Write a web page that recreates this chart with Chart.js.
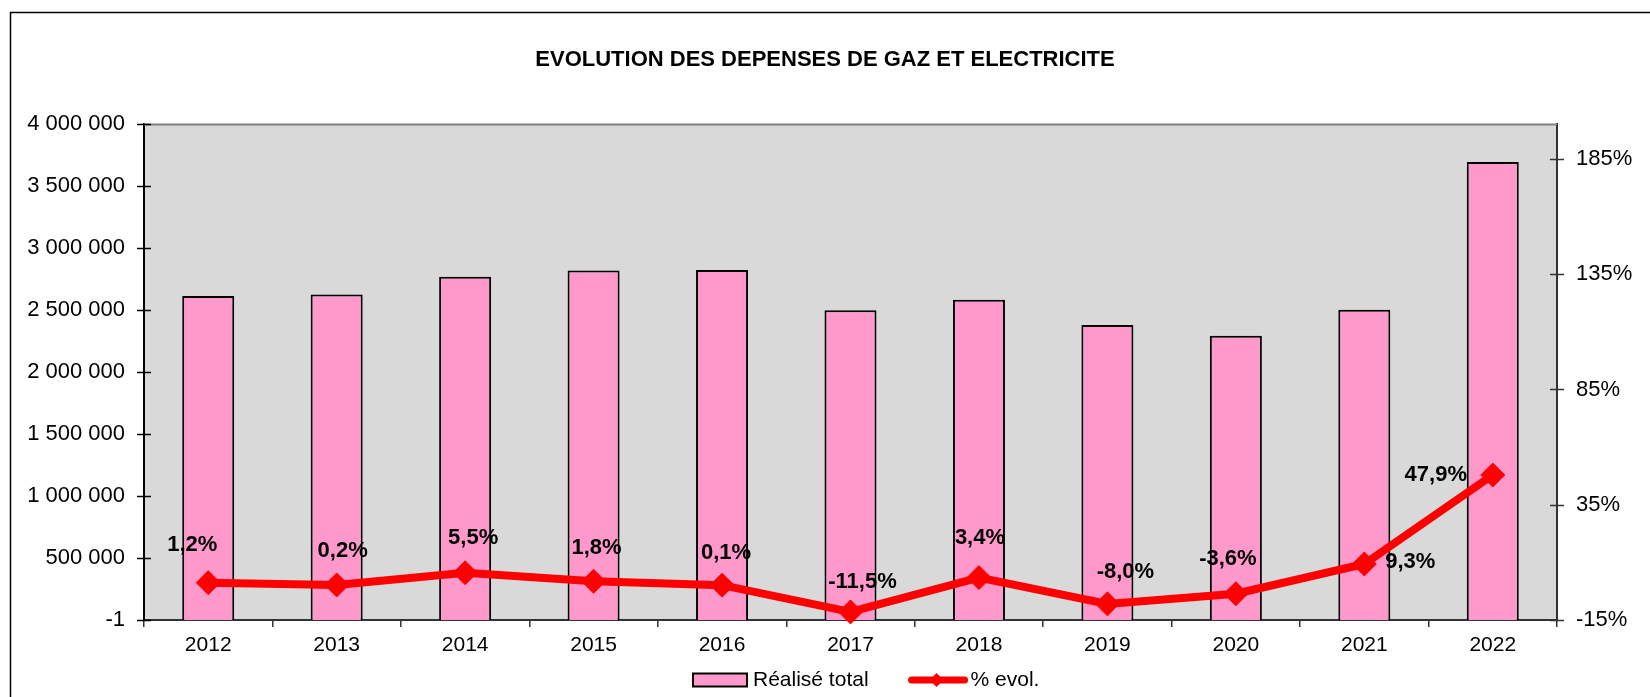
<!DOCTYPE html>
<html>
<head>
<meta charset="utf-8">
<script src="https://cdn.jsdelivr.net/npm/chart.js@4/dist/chart.umd.min.js"></script>
<style>
html,body{margin:0;padding:0;background:#fff;}
#wrap{width:1650px;height:697px;}
</style>
</head>
<body>
<div id="wrap"><canvas id="c" width="1650" height="697"></canvas></div>
<script>
const chartTitle = 'EVOLUTION DES DEPENSES DE GAZ ET ELECTRICITE';
const categories = ['2012','2013','2014','2015','2016','2017','2018','2019','2020','2021','2022'];
const realiseTotal = [2615000, 2628000, 2770000, 2820000, 2825000, 2500000, 2585000, 2380000, 2295000, 2505000, 3697000];
const evolPct = [1.2, 0.2, 5.5, 1.8, 0.1, -11.5, 3.4, -8.0, -3.6, 9.3, 47.9];
const seriesNames = ['Réalisé total', '% evol.'];
const leftTicks = [-1, 500000, 1000000, 1500000, 2000000, 2500000, 3000000, 3500000, 4000000];
const rightTicks = [-15, 35, 85, 135, 185];

const FONT = "'Liberation Sans', Arial, Helvetica, sans-serif";
// label offsets (px) relative to each point marker – layout only
const labelOffsets = [[-16,-38],[6,-34],[8,-35],[3,-33],[4,-32],[12,-30],[1,-40],[18,-32],[-8,-35],[46,-2],[-57,0]];

function fmtThousands(v){
  if (v === -1) return '-1';
  return String(v).replace(/\B(?=(\d{3})+(?!\d))/g, ' ');
}
function fmtPct(v){
  return v.toFixed(1).replace('.', ',') + '%';
}

const framePlugin = {
  id: 'framePlugin',
  beforeDraw(chart){
    const {ctx, chartArea:a} = chart;
    ctx.save();
    ctx.fillStyle = '#d9d9d9';
    ctx.fillRect(a.left, a.top, a.right - a.left, a.bottom - a.top);
    ctx.restore();
  },
  beforeDatasetsDraw(chart){
    const {ctx, chartArea:a} = chart;
    ctx.save();
    ctx.strokeStyle = '#808080';
    ctx.lineWidth = 2;
    ctx.beginPath();
    ctx.moveTo(a.left, a.top);
    ctx.lineTo(a.right, a.top);
    ctx.stroke();
    const yl = chart.scales.y, yr = chart.scales.y2;
    ctx.lineWidth = 1.5;
    ctx.strokeStyle = '#000';
    yl.ticks.forEach(t => {
      const py = Math.round(yl.getPixelForValue(t.value)) + 0.5;
      ctx.beginPath(); ctx.moveTo(a.left - 7, py); ctx.lineTo(a.left + 7, py); ctx.stroke();
    });
    ctx.strokeStyle = '#333';
    yr.ticks.forEach(t => {
      const py = Math.round(yr.getPixelForValue(t.value)) + 0.5;
      ctx.beginPath(); ctx.moveTo(a.right - 7, py); ctx.lineTo(a.right + 7, py); ctx.stroke();
    });
    ctx.restore();
  },
  afterDraw(chart){
    const {ctx} = chart;
    ctx.save();
    ctx.strokeStyle = '#000';
    ctx.lineWidth = 1.5;
    ctx.beginPath();
    ctx.moveTo(10.5, 697);
    ctx.lineTo(10.5, 12.5);
    ctx.lineTo(1650, 12.5);
    ctx.stroke();

    const meta = chart.getDatasetMeta(0);
    ctx.font = 'bold 22px ' + FONT;
    ctx.fillStyle = '#000';
    ctx.textAlign = 'center';
    ctx.textBaseline = 'middle';
    meta.data.forEach((pt, i) => {
      const off = labelOffsets[i] || [0, -34];
      ctx.fillText(fmtPct(evolPct[i]), pt.x + off[0], pt.y + off[1]);
    });

    const ly = 680;
    let x = 693;
    ctx.font = '21px ' + FONT;
    ctx.textAlign = 'left';
    ctx.textBaseline = 'middle';
    ctx.fillStyle = '#ff99cc';
    ctx.fillRect(x, ly - 6.5, 54, 13);
    ctx.strokeStyle = '#000';
    ctx.lineWidth = 2;
    ctx.strokeRect(x, ly - 6.5, 54, 13);
    x += 54 + 6;
    ctx.fillStyle = '#000';
    ctx.fillText(seriesNames[0], x, ly);
    x += ctx.measureText(seriesNames[0]).width + 40;
    ctx.strokeStyle = '#ff0000';
    ctx.lineWidth = 7;
    ctx.lineCap = 'round';
    ctx.beginPath(); ctx.moveTo(x + 3, ly); ctx.lineTo(x + 56, ly); ctx.stroke();
    ctx.fillStyle = '#ff0000';
    const cx = x + 28;
    ctx.beginPath();
    ctx.moveTo(cx, ly - 7); ctx.lineTo(cx + 7, ly); ctx.lineTo(cx, ly + 7); ctx.lineTo(cx - 7, ly); ctx.closePath();
    ctx.fill();
    x += 62;
    ctx.fillStyle = '#000';
    ctx.fillText(seriesNames[1], x, ly);
    ctx.restore();
  }
};

const ctx = document.getElementById('c').getContext('2d');
new Chart(ctx, {
  data: {
    labels: categories,
    datasets: [
      {
        type: 'line',
        label: seriesNames[1],
        data: evolPct,
        yAxisID: 'y2',
        borderColor: '#ff0000',
        backgroundColor: '#ff0000',
        borderWidth: 8,
        pointStyle: 'rectRot',
        pointRadius: 12,
        pointHoverRadius: 12,
        pointBorderWidth: 1,
        pointBackgroundColor: '#ff0000',
        pointBorderColor: '#ff0000',
        tension: 0,
        clip: false,
        order: 0
      },
      {
        type: 'bar',
        label: seriesNames[0],
        data: realiseTotal,
        yAxisID: 'y',
        backgroundColor: '#ff99cc',
        borderColor: '#000000',
        borderWidth: 2,
        categoryPercentage: 1.0,
        barPercentage: 0.405,
        order: 1
      }
    ]
  },
  options: {
    responsive: false,
    animation: false,
    devicePixelRatio: 1,
    events: [],
    layout: { padding: { left: 0, right: 0, top: 0, bottom: 27 } },
    plugins: {
      legend: { display: false },
      tooltip: { enabled: false },
      title: {
        display: true,
        text: chartTitle,
        color: '#000',
        font: { family: FONT, size: 22, weight: 'bold' },
        padding: { top: 47, bottom: 51 }
      }
    },
    scales: {
      x: {
        type: 'category',
        offset: true,
        grid: { display: true, offset: true, drawOnChartArea: false, drawTicks: true, tickLength: 7, color: '#333', lineWidth: 1.5 },
        border: { display: true, color: '#333', width: 2 },
        ticks: { color: '#000', font: { family: FONT, size: 21 }, padding: 6, maxRotation: 0, minRotation: 0, autoSkip: false },
        afterFit(s) { s.height = 50; }
      },
      y: {
        position: 'left',
        min: -1,
        max: 4000000,
        grid: { display: false, drawTicks: false },
        border: { display: true, color: '#000', width: 2 },
        ticks: { color: '#000', font: { family: FONT, size: 22 }, padding: 19, callback: v => fmtThousands(v) },
        afterBuildTicks(s) { s.ticks = leftTicks.map(v => ({ value: v })); },
        afterFit(s) { s.width = 144; }
      },
      y2: {
        position: 'right',
        min: -15,
        max: 200,
        grid: { display: false, drawTicks: false },
        border: { display: true, color: '#333', width: 2 },
        ticks: { color: '#000', font: { family: FONT, size: 22 }, padding: 19, callback: v => v + '%' },
        afterBuildTicks(s) { s.ticks = rightTicks.map(v => ({ value: v })); },
        afterFit(s) { s.width = 93; }
      }
    }
  },
  plugins: [framePlugin]
});
</script>
</body>
</html>
